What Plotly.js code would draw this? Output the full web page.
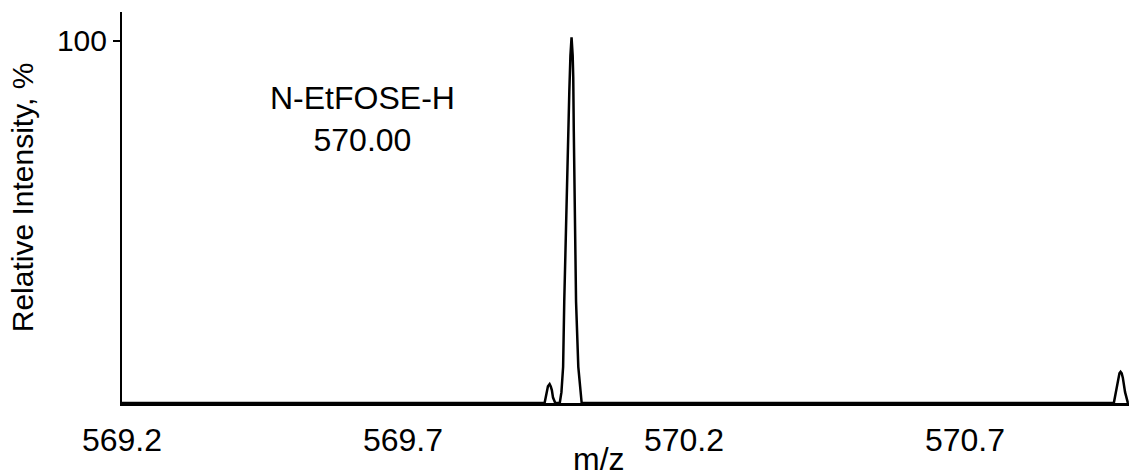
<!DOCTYPE html>
<html>
<head>
<meta charset="utf-8">
<script src="https://cdn.plot.ly/plotly-3.0.1.min.js"></script>
<style>html,body{margin:0;padding:0;background:#fff;}#chart{width:1130px;height:476px;}</style>
</head>
<body>
<div id="chart"></div>
<script>
// Profile spectrum (m/z, relative intensity %)
const mz = [569.2, 569.952, 569.954, 569.956, 569.958, 569.961, 569.963, 569.965, 569.967, 569.971,
            569.979, 569.982, 569.985, 569.987, 569.990, 569.992, 569.994, 569.996, 569.998, 570.000,
            570.002, 570.003, 570.004, 570.006, 570.008, 570.012, 570.016, 570.018,
            570.965, 570.969, 570.973, 570.975, 570.977, 570.979, 570.981, 570.985, 570.990];
const intensity = [0, 0, 1.5, 3.5, 4.6, 5.2, 4.6, 3.5, 1.5, 0,
                   0, 3, 10, 28, 50, 64, 75, 86, 96, 101,
                   96, 90, 75, 50, 28, 10, 3, 0,
                   0, 3, 7, 8.2, 8.6, 8.2, 7, 3, 0];
const xTickVals = [569.2, 569.7, 570.2, 570.7];
const xTickText = ['569.2', '569.7', '570.2', '570.7'];
const yTickVals = [100];
const yTickText = ['100'];
const compoundName = 'N-EtFOSE-H';
const compoundMz = '570.00';

const FONT = 'Liberation Sans, Arial, sans-serif';

const trace = {
  x: mz, y: intensity, type: 'scatter', mode: 'lines',
  line: {color: '#000', width: 2.5, shape: 'linear'},
  hoverinfo: 'skip'
};

const layout = {
  width: 1130, height: 476,
  margin: {l: 122, r: 1, t: 12, b: 73},
  paper_bgcolor: '#fff', plot_bgcolor: '#fff',
  showlegend: false,
  font: {family: FONT, size: 30, color: '#000'},
  xaxis: {
    range: [569.2, 570.992], showgrid: false, zeroline: false,
    showline: true, linecolor: '#000', linewidth: 3,
    tickvals: xTickVals, ticktext: xTickText, ticks: '',
    ticklabelstandoff: 7,
    tickfont: {family: FONT, size: 32, color: '#000'}
  },
  yaxis: {
    range: [0, 108], showgrid: false, zeroline: false,
    showline: true, linecolor: '#000', linewidth: 2,
    tickvals: yTickVals, ticktext: yTickText, ticks: 'outside',
    ticklen: 7, tickwidth: 2, tickcolor: '#000',
    tickfont: {family: FONT, size: 30, color: '#000'}
  },
  annotations: [
    {text: compoundName + '<br>' + compoundMz, xref: 'paper', yref: 'paper', x: 0.2386, y: 0.7276,
     xanchor: 'center', yanchor: 'middle', showarrow: false, align: 'center',
     font: {family: FONT, size: 32, color: '#000'}},
    {text: 'm/z', xref: 'paper', yref: 'paper', x: 0.474, y: -0.143,
     xanchor: 'center', yanchor: 'middle', showarrow: false,
     font: {family: FONT, size: 32, color: '#000'}},
    {text: 'Relative Intensity, %', xref: 'paper', yref: 'paper', x: -0.098, y: 0.527,
     xanchor: 'center', yanchor: 'middle', showarrow: false, textangle: -90,
     font: {family: FONT, size: 30, color: '#000'}}
  ]
};

Plotly.newPlot('chart', [trace], layout, {staticPlot: true, displayModeBar: false});
</script>
</body>
</html>
